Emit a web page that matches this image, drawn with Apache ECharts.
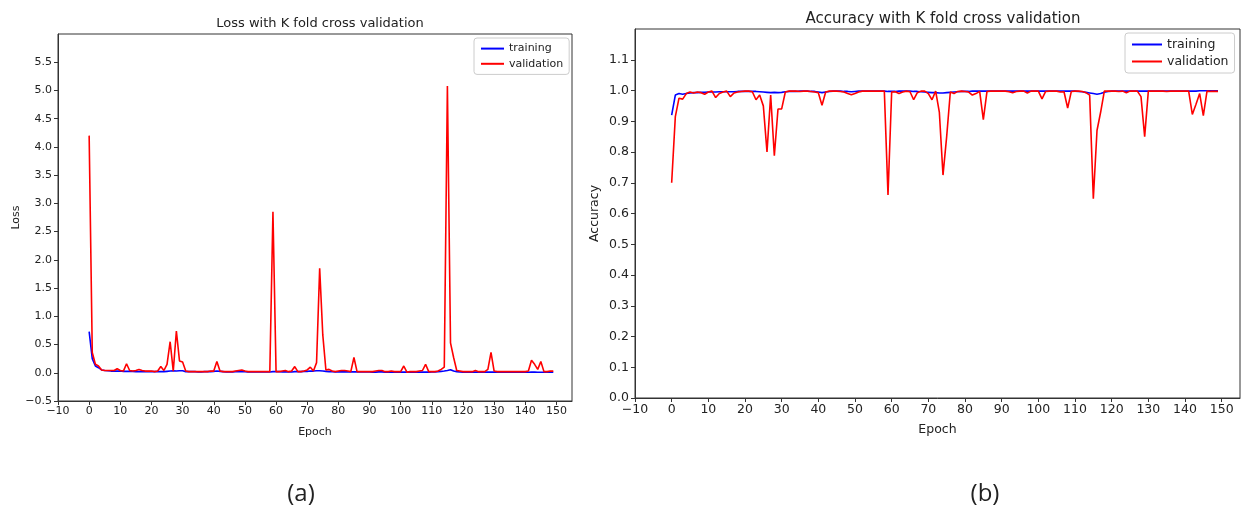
<!DOCTYPE html>
<html>
<head>
<meta charset="utf-8">
<script src="https://cdn.jsdelivr.net/npm/echarts@6/dist/echarts.min.js"></script>
<style>
  html, body { margin: 0; padding: 0; background: #fff; }
  #chart { width: 1241px; height: 510px; }
</style>
</head>
<body>
<div id="chart"></div>
<script>
// epochs 0..149
const epochs = Array.from({ length: 150 }, (_, i) => i);

// (a) loss
const trainLoss = [
  0.73, 0.25, 0.12, 0.09, 0.05, 0.04, 0.035, 0.03, 0.03, 0.03,
  0.03, 0.025, 0.025, 0.025, 0.025, 0.02, 0.02, 0.02, 0.02, 0.02,
  0.02, 0.02, 0.02, 0.02, 0.02, 0.025, 0.03, 0.035, 0.03, 0.035,
  0.035, 0.02, 0.02, 0.02, 0.02, 0.015, 0.015, 0.02, 0.02, 0.02,
  0.025, 0.03, 0.025, 0.02, 0.015, 0.015, 0.015, 0.02, 0.02, 0.025,
  0.02, 0.015, 0.015, 0.015, 0.015, 0.015, 0.015, 0.015, 0.015, 0.02,
  0.02, 0.02, 0.015, 0.015, 0.015, 0.015, 0.02, 0.02, 0.02, 0.025,
  0.025, 0.03, 0.03, 0.035, 0.035, 0.03, 0.025, 0.02, 0.02, 0.015,
  0.015, 0.015, 0.015, 0.015, 0.015, 0.015, 0.015, 0.015, 0.015, 0.015,
  0.015, 0.012, 0.012, 0.015, 0.015, 0.012, 0.012, 0.012, 0.012, 0.012,
  0.012, 0.012, 0.012, 0.012, 0.012, 0.012, 0.012, 0.012, 0.012, 0.012,
  0.015, 0.015, 0.02, 0.025, 0.03, 0.04, 0.055, 0.03, 0.02, 0.015,
  0.012, 0.012, 0.012, 0.012, 0.012, 0.012, 0.012, 0.012, 0.012, 0.012,
  0.012, 0.012, 0.012, 0.012, 0.012, 0.012, 0.012, 0.012, 0.012, 0.012,
  0.01, 0.01, 0.012, 0.012, 0.01, 0.01, 0.01, 0.01, 0.01, 0.01
];
const valLoss = [
  4.20, 0.36, 0.15, 0.12, 0.05, 0.04, 0.04, 0.04, 0.04, 0.07,
  0.04, 0.03, 0.16, 0.04, 0.03, 0.04, 0.06, 0.04, 0.03, 0.03,
  0.03, 0.02, 0.03, 0.11, 0.04, 0.15, 0.55, 0.03, 0.74, 0.21,
  0.19, 0.03, 0.02, 0.02, 0.02, 0.02, 0.02, 0.02, 0.02, 0.03,
  0.03, 0.20, 0.03, 0.02, 0.02, 0.02, 0.02, 0.03, 0.04, 0.05,
  0.03, 0.02, 0.02, 0.02, 0.02, 0.02, 0.02, 0.02, 0.02, 2.85,
  0.02, 0.02, 0.03, 0.04, 0.02, 0.03, 0.11, 0.02, 0.02, 0.03,
  0.05, 0.10, 0.03, 0.18, 1.85, 0.67, 0.05, 0.06, 0.03, 0.02,
  0.03, 0.04, 0.04, 0.03, 0.02, 0.27, 0.02, 0.02, 0.02, 0.02,
  0.02, 0.02, 0.03, 0.04, 0.04, 0.02, 0.02, 0.03, 0.02, 0.02,
  0.02, 0.12, 0.01, 0.02, 0.02, 0.02, 0.03, 0.04, 0.15, 0.02,
  0.02, 0.02, 0.03, 0.06, 0.10, 5.08, 0.53, 0.27, 0.04, 0.03,
  0.02, 0.02, 0.02, 0.02, 0.04, 0.02, 0.02, 0.02, 0.06, 0.36,
  0.03, 0.02, 0.02, 0.02, 0.02, 0.02, 0.02, 0.02, 0.02, 0.02,
  0.02, 0.03, 0.22, 0.15, 0.06, 0.20, 0.02, 0.02, 0.03, 0.03
];

// (b) accuracy
const trainAcc = [
  0.920, 0.985, 0.990, 0.988, 0.990, 0.992, 0.993, 0.993, 0.994, 0.994,
  0.995, 0.995, 0.995, 0.996, 0.996, 0.996, 0.996, 0.996, 0.997, 0.997,
  0.997, 0.997, 0.997, 0.997, 0.996, 0.995, 0.994, 0.993, 0.994, 0.993,
  0.994, 0.996, 0.997, 0.997, 0.997, 0.998, 0.998, 0.998, 0.997, 0.997,
  0.995, 0.993, 0.995, 0.997, 0.998, 0.998, 0.998, 0.997, 0.997, 0.996,
  0.997, 0.998, 0.998, 0.998, 0.998, 0.998, 0.998, 0.998, 0.998, 0.997,
  0.997, 0.997, 0.998, 0.998, 0.998, 0.998, 0.997, 0.997, 0.996, 0.995,
  0.994, 0.993, 0.993, 0.992, 0.992, 0.993, 0.994, 0.995, 0.996, 0.997,
  0.997, 0.997, 0.998, 0.998, 0.998, 0.998, 0.998, 0.998, 0.998, 0.998,
  0.998, 0.998, 0.998, 0.998, 0.998, 0.998, 0.998, 0.998, 0.998, 0.998,
  0.998, 0.998, 0.998, 0.998, 0.998, 0.998, 0.998, 0.998, 0.998, 0.998,
  0.998, 0.997, 0.996, 0.994, 0.992, 0.990, 0.988, 0.990, 0.994, 0.997,
  0.998, 0.998, 0.998, 0.998, 0.998, 0.998, 0.998, 0.998, 0.998, 0.998,
  0.998, 0.998, 0.998, 0.998, 0.998, 0.998, 0.998, 0.998, 0.998, 0.998,
  0.998, 0.998, 0.998, 0.998, 0.999, 0.999, 0.999, 0.999, 0.999, 0.999
];
const valAcc = [
  0.700, 0.915, 0.975, 0.972, 0.990, 0.995, 0.992, 0.995, 0.993, 0.988,
  0.995, 0.998, 0.977, 0.990, 0.995, 0.998, 0.980, 0.992, 0.995, 0.997,
  0.998, 0.998, 0.996, 0.970, 0.985, 0.950, 0.800, 0.985, 0.788, 0.940,
  0.940, 0.995, 0.998, 0.998, 0.998, 0.997, 0.998, 0.998, 0.997, 0.995,
  0.993, 0.952, 0.995, 0.998, 0.998, 0.998, 0.997, 0.995, 0.990, 0.986,
  0.990, 0.995, 0.998, 0.998, 0.998, 0.998, 0.998, 0.998, 0.998, 0.660,
  0.995, 0.996, 0.990, 0.995, 0.998, 0.996, 0.970, 0.993, 0.998, 0.998,
  0.990, 0.970, 0.998, 0.930, 0.725, 0.850, 0.995, 0.990, 0.997, 0.998,
  0.997, 0.995, 0.985, 0.990, 0.997, 0.905, 0.997, 0.998, 0.998, 0.998,
  0.998, 0.998, 0.996, 0.993, 0.997, 0.998, 0.998, 0.992, 0.998, 0.998,
  0.998, 0.973, 0.997, 0.998, 0.998, 0.998, 0.995, 0.996, 0.943, 0.997,
  0.998, 0.998, 0.997, 0.993, 0.985, 0.648, 0.870, 0.930, 0.998, 0.998,
  0.998, 0.998, 0.997, 0.998, 0.993, 0.998, 0.998, 0.998, 0.980, 0.850,
  0.998, 0.998, 0.998, 0.998, 0.998, 0.997, 0.998, 0.998, 0.998, 0.998,
  0.998, 0.998, 0.922, 0.955, 0.990, 0.918, 0.998, 0.997, 0.997, 0.997
];

const FONT = "DejaVu Sans";
const AXIS = "#333";

function pairs(ys) {
  return epochs.map((e, i) => [e, ys[i]]);
}
function minus(s) {
  return String(s).replace("-", "\u2212");
}

function xAxisOf(gridIndex, fs, gap) {
  return {
    gridIndex: gridIndex,
    type: "value",
    min: -10,
    max: 155,
    interval: 10,
    name: "Epoch",
    nameLocation: "middle",
    nameGap: gap,
    nameTextStyle: { fontFamily: FONT, fontSize: fs, color: "#222" },
    axisLine: { show: true, onZero: false, lineStyle: { color: AXIS, width: 1 } },
    axisTick: { show: true, length: 4, lineStyle: { color: AXIS } },
    axisLabel: {
      fontFamily: FONT, fontSize: fs, color: "#222", margin: 5,
      showMaxLabel: false,
      formatter: (v) => minus(v),
    },
    splitLine: { show: false },
  };
}

function yAxisOf(gridIndex, name, min, max, step, fs, gap) {
  return {
    gridIndex: gridIndex,
    type: "value",
    min: min,
    max: max,
    interval: step,
    name: name,
    nameLocation: "middle",
    nameGap: gap,
    nameTextStyle: { fontFamily: FONT, fontSize: fs, color: "#222" },
    axisLine: { show: true, onZero: false, lineStyle: { color: AXIS, width: 1 } },
    axisTick: { show: true, length: 4, lineStyle: { color: AXIS } },
    axisLabel: {
      fontFamily: FONT, fontSize: fs, color: "#222", margin: 6,
      showMaxLabel: false,
      formatter: (v) => minus(v.toFixed(1)),
    },
    splitLine: { show: false },
  };
}

function lineOf(name, ys, color, idx) {
  return {
    name: name,
    type: "line",
    xAxisIndex: idx,
    yAxisIndex: idx,
    data: pairs(ys),
    symbol: "none",
    showSymbol: false,
    lineStyle: { color: color, width: 1.6 },
    itemStyle: { color: color },
  };
}

function legendOf(left, top, fs, itemH, itemW) {
  return {
    left: left,
    top: top,
    orient: "vertical",
    data: ["training", "validation"],
    itemWidth: itemW,
    itemHeight: itemH,
    itemGap: 4,
    padding: [5, 6, 5, 6],
    borderColor: "#ccc",
    borderWidth: 1,
    borderRadius: 3,
    backgroundColor: "rgba(255,255,255,0.8)",
    itemStyle: { opacity: 0 }, // line only, no marker
    lineStyle: { width: 2 },
    textStyle: { fontFamily: FONT, fontSize: fs, color: "#222" },
  };
}

const chart = echarts.init(document.getElementById("chart"));

const option = {
  animation: false,
  backgroundColor: "#fff",
  title: [
    { text: "Loss with K fold cross validation", left: 315, top: 12, textAlign: "center",
      textStyle: { fontFamily: FONT, fontSize: 13, fontWeight: "normal", color: "#222" } },
    { text: "Accuracy with K fold cross validation", left: 938, top: 7, textAlign: "center",
      textStyle: { fontFamily: FONT, fontSize: 15, fontWeight: "normal", color: "#222" } },
    { text: "(a)", left: 296, top: 477, textAlign: "center",
      textStyle: { fontFamily: "Open Sans", fontSize: 24, fontWeight: "normal", color: "#222" } },
    { text: "(b)", left: 980, top: 477, textAlign: "center",
      textStyle: { fontFamily: "Open Sans", fontSize: 24, fontWeight: "normal", color: "#222" } },
  ],
  legend: [
    legendOf(474, 38, 11, 14, 23),
    legendOf(1125, 33, 12.5, 15, 30),
  ],
  grid: [
    { left: 58, top: 34, right: 669, bottom: 109, show: true, borderColor: AXIS, borderWidth: 1 },
    { left: 635, top: 29, right: 1, bottom: 112, show: true, borderColor: AXIS, borderWidth: 1 },
  ],
  xAxis: [
    xAxisOf(0, 11, 26),
    xAxisOf(1, 12.5, 25),
  ],
  yAxis: [
    yAxisOf(0, "Loss", -0.5, 6, 0.5, 11, 36),
    yAxisOf(1, "Accuracy", 0, 1.2, 0.1, 12.5, 34),
  ],
  series: [
    lineOf("training", trainLoss, "#0000ff", 0),
    lineOf("validation", valLoss, "#ff0000", 0),
    lineOf("training", trainAcc, "#0000ff", 1),
    lineOf("validation", valAcc, "#ff0000", 1),
  ],
};

chart.setOption(option);
</script>
</body>
</html>
